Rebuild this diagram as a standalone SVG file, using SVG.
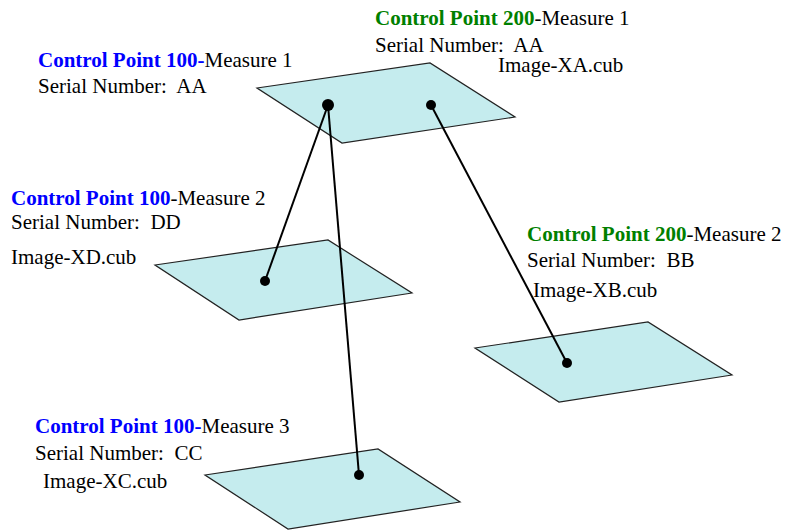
<svg xmlns="http://www.w3.org/2000/svg" width="786" height="531" viewBox="0 0 786 531">
<style>
text{font-family:"Liberation Serif","Times New Roman",serif;font-size:21px;fill:#000;white-space:pre}
.b{fill:#0000ff;font-weight:bold}
.g{fill:#008000;font-weight:bold}
.plane{fill:#c5ecee;stroke:#222;stroke-width:1.2}
.dot{fill:#000}
.conn{stroke:#000;stroke-width:2;fill:none}
</style>
<rect width="786" height="531" fill="#fff"/>
<g id="plane-top">
<polygon class="plane" points="257,88 430,63 515,117 342,143"/>
</g>
<g id="plane-xd">
<polygon class="plane" points="155,265 328,240 412,293 239,320"/>
</g>
<g id="plane-xb">
<polygon class="plane" points="475,348 648,322 732,375 559,402"/>
</g>
<g id="plane-xc">
<polygon class="plane" points="205,475 378,449 460,502 288,529"/>
</g>
<g id="connectors">
<line class="conn" x1="328" y1="105" x2="265" y2="281"/>
<line class="conn" x1="328" y1="105" x2="359" y2="475"/>
<line class="conn" x1="431" y1="105" x2="567" y2="363"/>
</g>
<g id="dots">
<circle class="dot" cx="328" cy="105" r="6"/>
<circle class="dot" cx="431" cy="105" r="5"/>
<circle class="dot" cx="265" cy="281" r="5"/>
<circle class="dot" cx="567" cy="363" r="5"/>
<circle class="dot" cx="359" cy="475" r="5"/>
</g>
<g id="label-cp100-m1">
<text x="38" y="67"><tspan class="b">Control Point 100-</tspan>Measure 1</text>
<text x="38" y="93">Serial Number:  AA</text>
</g>
<g id="label-cp200-m1">
<text x="375" y="25"><tspan class="g">Control Point 200</tspan>-Measure 1</text>
<text x="375" y="52">Serial Number:  AA</text>
<text x="498" y="72">Image-XA.cub</text>
</g>
<g id="label-cp100-m2">
<text x="11" y="205"><tspan class="b">Control Point 100</tspan>-Measure 2</text>
<text x="11" y="229">Serial Number:  DD</text>
<text x="11" y="264">Image-XD.cub</text>
</g>
<g id="label-cp200-m2">
<text x="527" y="241"><tspan class="g">Control Point 200</tspan>-Measure 2</text>
<text x="527" y="267">Serial Number:  BB</text>
<text x="533" y="297">Image-XB.cub</text>
</g>
<g id="label-cp100-m3">
<text x="35" y="433"><tspan class="b">Control Point 100-</tspan>Measure 3</text>
<text x="35" y="460">Serial Number:  CC</text>
<text x="43" y="488">Image-XC.cub</text>
</g>
</svg>
